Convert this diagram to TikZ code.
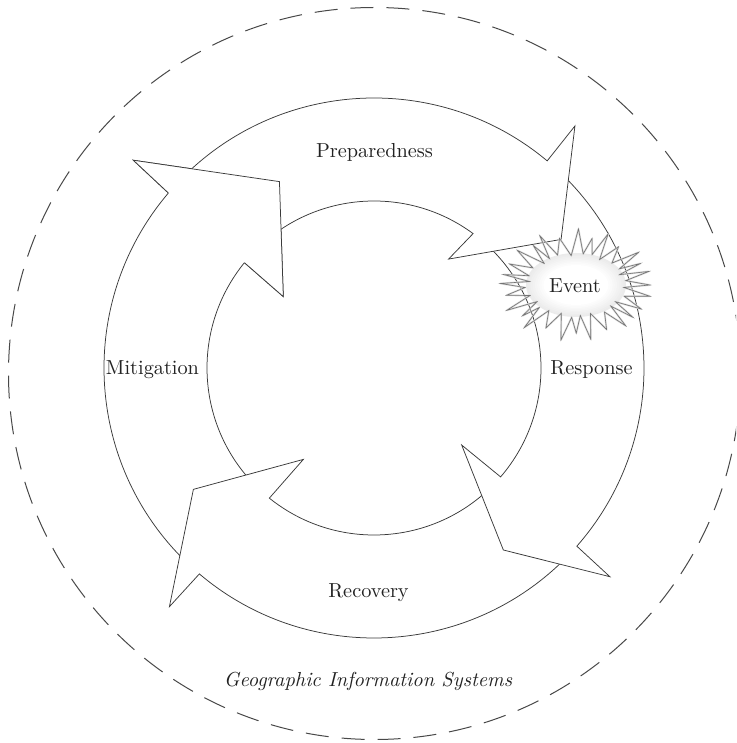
\documentclass[tikz,border=0pt]{standalone}
\usepackage{fontspec}
\setmainfont{lmroman10-regular.otf}[ItalicFont=lmroman10-italic.otf]
\definecolor{linec}{HTML}{3A3A3A}
\definecolor{dashc}{HTML}{484848}
\definecolor{txtc}{HTML}{222222}
\newcommand\cyclearrow[9]{%
  \path[ring] (#1:270pt) arc[start angle=#1, end angle=#2, radius=270pt]
    -- (#3:#4pt) -- (#5:#6pt) -- (#7:#8pt) -- (#9:167pt)
    arc[start angle=#9, end angle=#1, radius=167pt] -- cycle;}
\begin{document}
\begin{tikzpicture}[x=1pt,y=1pt,
  ring/.style={draw=linec, fill=white, line width=0.75pt, line join=miter},
  lbl/.style={font=\fontsize{20.3}{24}\selectfont, text=txtc, inner sep=0pt, anchor=base},
  dashring/.style={draw=dashc, line width=1pt, dash pattern=on 23pt off 13pt},
  burstline/.style={draw=black!55, line width=0.6pt, line join=miter},
  bursthalo/.style={draw=black!14, line width=1.8pt, line join=round}]
\useasboundingbox (-374,-375) rectangle (362,368);
\clip (-374,-375) rectangle (362,368);

% outer dashed boundary
\draw[dashring] (0.5,-5.5) circle[radius=366pt];

% four cycle arrows: tail, outer notch, outer barb ang, r, tip ang, r, inner barb ang, r, inner notch
\cyclearrow{227.5}{139.6}{139.2}{318}{116.9}{209}{141.8}{115.4}{140.9} % Mitigation
\cyclearrow{-44}{-130.3}{-130.6}{314.4}{-146.1}{217.6}{-127.7}{115.5}{-128.8} % Recovery
\cyclearrow{48}{-41.3}{-41.5}{315}{-54.6}{223.3}{-41.3}{116.7}{-40.7} % Response
\cyclearrow{137}{50.1}{50.3}{314.6}{34.5}{227}{55.6}{132}{53.6} % Preparedness

% Mitigation head lies over the Preparedness tail
\fill[white] (139.6:270pt) -- (139.2:318pt) -- (116.9:209pt) -- (141.8:115.4pt) -- (140.9:167pt) -- cycle;
\draw[linec, line width=0.75pt, line join=miter] (139.6:270pt) -- (139.2:318pt) -- (116.9:209pt) -- (141.8:115.4pt) -- (140.9:167pt);

% Event starburst
\coordinate (evc) at (202,83);
\foreach \k in {0,...,8}{%
  \pgfmathsetmacro\g{8-1*\k}%
  \pgfmathsetmacro\ax{50-2.2*\k}%
  \pgfmathsetmacro\ay{32-1.5*\k}%
  \fill[black!\g!white] (evc) ellipse[x radius=\ax pt, y radius=\ay pt];}
\draw[bursthalo] plot[samples at={0,...,55}]
  ({202 + (74*(1+0.08*sin(\x*83))*(1-mod(\x,2)) + 49*(1+0.05*cos(\x*61))*mod(\x,2))*cos(\x*6.4286+2*sin(\x*47))},
   {83 + (52*(1+0.08*sin(\x*83))*(1-mod(\x,2)) + 31*(1+0.05*cos(\x*61))*mod(\x,2))*sin(\x*6.4286+2*sin(\x*47))}) -- cycle;
\draw[burstline] plot[samples at={0,...,55}]
  ({202 + (74*(1+0.08*sin(\x*83))*(1-mod(\x,2)) + 49*(1+0.05*cos(\x*61))*mod(\x,2))*cos(\x*6.4286+2*sin(\x*47))},
   {83 + (52*(1+0.08*sin(\x*83))*(1-mod(\x,2)) + 31*(1+0.05*cos(\x*61))*mod(\x,2))*sin(\x*6.4286+2*sin(\x*47))}) -- cycle;

% labels
\node[lbl] (prep) at (0.5,210) {Preparedness};
\node[lbl] (mitig) at (-221.5,-7) {Mitigation};
\node[lbl] (resp) at (217.5,-7) {Response};
\node[lbl] (recov) at (-5.5,-229) {Recovery};
\node[lbl] (event) at (201,75) {Event};
\node[lbl, font=\fontsize{20.3}{24}\selectfont\itshape] (gis) at (-6,-318) {Geographic Information Systems};
\end{tikzpicture}
\end{document}
